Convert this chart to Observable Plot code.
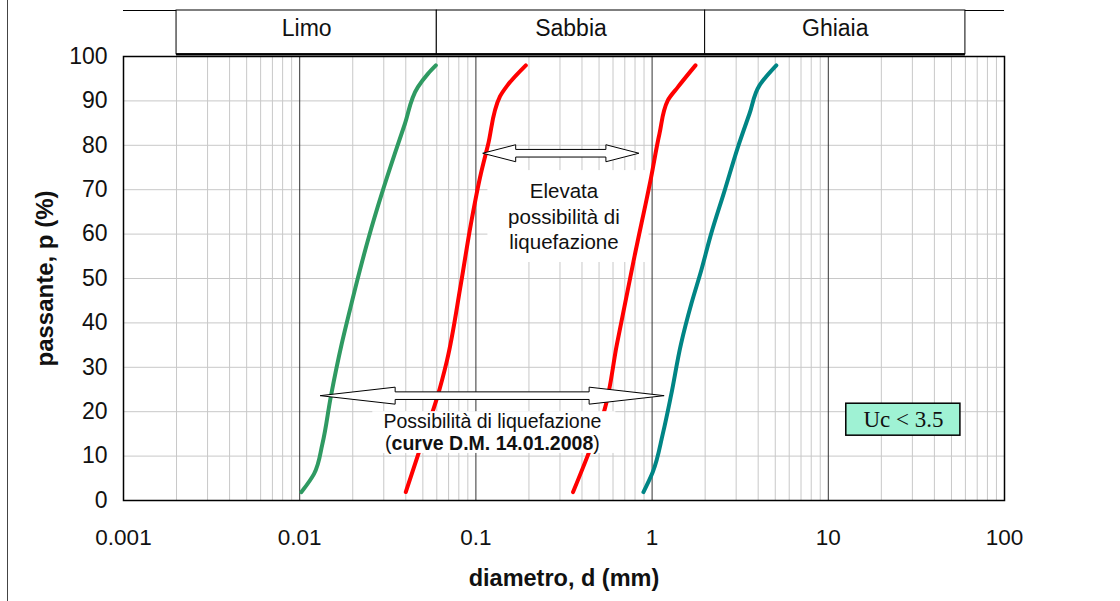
<!DOCTYPE html>
<html><head><meta charset="utf-8">
<script src="https://cdn.jsdelivr.net/npm/d3@7"></script>
<script src="https://cdn.jsdelivr.net/npm/@observablehq/plot@0.6"></script>
<style>
html,body{margin:0;padding:0;background:#fff;}
#wrap{position:relative;width:1120px;height:601px;overflow:hidden;}
#edge{position:absolute;left:7px;top:0;width:0;height:601px;border-left:1.5px solid #444;}
#chart{position:absolute;left:0;top:0;}
</style></head><body>
<div id="wrap"><div id="chart"></div><div id="edge"></div></div>
<script>
// ---- data ----
const xTicks = [0.001, 0.01, 0.1, 1, 10, 100];
const xTickLabels = ["0.001", "0.01", "0.1", "1", "10", "100"];
const yTicks = [0, 10, 20, 30, 40, 50, 60, 70, 80, 90, 100];

const classNames = ["Limo", "Sabbia", "Ghiaia"];
const classBounds = [0.002, 0.06, 2, 60];

const greenX = [0.01023, 0.01206, 0.01346, 0.0150, 0.01732, 0.01924, 0.02193, 0.02466, 0.02924, 0.03466, 0.03951, 0.04683, 0.05338, 0.05925];
const greenY = [1.9, 6, 12.8, 23.3, 35.3, 42.8, 51.8, 59.3, 69.1, 78.1, 84.8, 93.1, 96.1, 98];

const redLeftX = [0.040, 0.0467, 0.0547, 0.0606, 0.0685, 0.0822, 0.0937, 0.1067, 0.117, 0.137, 0.151, 0.192];
const redLeftY = [1.9, 10, 18, 23.5, 31.5, 48.8, 62.3, 73.6, 80, 91, 93.5, 98];

const redRightX = [0.356, 0.43, 0.536, 0.63, 0.793, 0.987, 1.101, 1.228, 1.40, 1.763];
const redRightY = [1.9, 10, 20.3, 35, 54.8, 72.8, 82.6, 90.1, 93.1, 98];

const tealX = [0.893, 1.009, 1.15, 1.28, 1.46, 1.67, 1.90, 2.16, 2.58, 3.07, 3.57, 4.07, 5.07];
const tealY = [1.9, 6.4, 15, 23.6, 35.3, 44.3, 51.8, 60, 69.8, 79.6, 87.1, 93.5, 98];

// annotations (data coordinates)
const arrowFrom = [0.01315, 0.110];
const arrowTo = [1.178, 0.847];
const arrowY = [23.5, 78.1];

const highText = "Elevata\npossibilità di\nliquefazione";
const lowText1 = "Possibilità di liquefazione";
const lowText2 = "(curve D.M. 14.01.2008)";
const ucText = "Uc < 3.5";
const xTitle = "diametro, d (mm)";
const yTitle = "passante, p (%)";

// ---- build ----
const decades = xTicks;
const minor = [];
for (let i = 0; i < decades.length - 1; i++) for (let k = 2; k <= 9; k++) minor.push(decades[i] * k);

const classes = classNames.map((n, i) => ({name: n, lo: classBounds[i], hi: classBounds[i + 1]}));
const series = [
  {id: "green", x: greenX, y: greenY, color: "#2f9a62"},
  {id: "redL", x: redLeftX, y: redLeftY, color: "#ff0000"},
  {id: "redR", x: redRightX, y: redRightY, color: "#ff0000"},
  {id: "teal", x: tealX, y: tealY, color: "#008585"}
];
const lineData = series.flatMap(s => s.x.map((x, i) => ({id: s.id, x, y: s.y[i], color: s.color})));

const hdrTop = 110.36, hdrBottom = 100.5, hdrMid = 106.3;
const headLen = [75, 33];

function arrowsMark(index, scales) {
  const g = d3.create("svg:g");
  arrowFrom.forEach((f, i) => {
    const xa = scales.x(f), xb = scales.x(arrowTo[i]), yc = scales.y(arrowY[i]);
    const h = headLen[i], H = 8.5, s = 3.8;
    const p = [[xa, yc], [xa + h, yc - H], [xa + h, yc - s], [xb - h, yc - s], [xb - h, yc - H], [xb, yc],
               [xb - h, yc + H], [xb - h, yc + s], [xa + h, yc + s], [xa + h, yc + H]];
    g.append("path").attr("d", "M" + p.map(q => q.join(",")).join("L") + "Z")
      .attr("fill", "white").attr("stroke", "black").attr("stroke-width", 1);
  });
  return g.node();
}

const font = "'Liberation Sans', Arial, sans-serif";
const hasAxisMarks = typeof Plot.axisX === "function";

const marks = [
  Plot.ruleY(yTicks.slice(1, -1), {stroke: "#c8c8c8", strokeWidth: 1}),
  Plot.ruleX(minor, {stroke: "#c8c8c8", strokeWidth: 1}),
  Plot.ruleX(decades.slice(1, -1), {stroke: "#333", strokeWidth: 1}),
  Plot.rect([{x1: 0.117, x2: 0.96, y1: 53.6, y2: 74.3}], {x1: "x1", x2: "x2", y1: "y1", y2: "y2", fill: "white"}),
  Plot.line(lineData, {x: "x", y: "y", z: "id", stroke: "color", strokeWidth: 4, curve: "monotone-y", strokeLinecap: "round"}),
  Plot.rect([{x1: 0.026, x2: 0.623, y1: 10.6, y2: 20}], {x1: "x1", x2: "x2", y1: "y1", y2: "y2", fill: "white"}),
  arrowsMark,
  Plot.text([highText], {x: () => 0.316, y: () => 64.2, text: d => d, fontSize: 20.5, lineHeight: 1.24, fill: "#111"}),
  Plot.text([lowText1 + "\n" + lowText2], {x: () => 0.1241, y: () => 15.45, text: d => d, fontSize: 19.5, lineHeight: 1.13, fill: "#111"}),
  Plot.rect([{x1: 12.65, x2: 56.2, y1: 14.6, y2: 21.8}], {x1: "x1", x2: "x2", y1: "y1", y2: "y2", fill: "#9ff2d4", stroke: "black", strokeWidth: 1.5}),
  Plot.text([ucText], {x: () => 26.7, y: () => 18.2, text: d => d, fontSize: 23, fontFamily: "'Liberation Serif', 'Times New Roman', serif", fill: "#111"}),
  Plot.frame({stroke: "black", strokeWidth: 1.5}),
  Plot.ruleY([hdrTop], {stroke: "black", strokeWidth: 1}),
  Plot.rect(classes, {x1: "lo", x2: "hi", y1: () => hdrBottom, y2: () => hdrTop, fill: "white", stroke: "black", strokeWidth: 1}),
  Plot.ruleY([hdrBottom], {x1: classBounds[0], x2: classBounds[classBounds.length - 1], stroke: "black", strokeWidth: 2.2}),
  Plot.text(classes, {x: d => Math.sqrt(d.lo * d.hi), y: () => hdrMid, text: "name", fontSize: 23, fill: "#111"}),
  Plot.text([xTitle], {frameAnchor: "bottom", dy: 78, lineAnchor: "middle", textAnchor: "middle", text: d => d, fontSize: 23.5, fontWeight: "bold", fill: "#111"}),
  Plot.text([yTitle], {frameAnchor: "left", dx: -78, rotate: -90, lineAnchor: "middle", textAnchor: "middle", text: d => d, fontSize: 24, fontWeight: "bold", fill: "#111"})
];

if (hasAxisMarks) {
  marks.push(
    Plot.axisX(xTicks, {tickSize: 0, tickPadding: 29, tickFormat: d => xTickLabels[xTicks.indexOf(d)], fontSize: 22.5, label: null, fill: "#111"}),
    Plot.axisY(yTicks, {tickSize: 0, tickPadding: 16, fontSize: 23, label: null, fill: "#111"})
  );
}

const chart = Plot.plot({
  width: 1120, height: 601,
  marginLeft: 123, marginRight: 116, marginTop: 56, marginBottom: 101,
  style: {fontFamily: font, fontSize: "22px", background: "white", overflow: "visible"},
  x: hasAxisMarks
    ? {type: "log", domain: [0.001, 100], axis: null}
    : {type: "log", domain: [0.001, 100], ticks: xTicks, tickFormat: d => xTickLabels[xTicks.indexOf(d)], tickSize: 0, tickPadding: 29, label: null},
  y: hasAxisMarks
    ? {domain: [0, 100], axis: null}
    : {domain: [0, 100], ticks: yTicks, tickSize: 0, tickPadding: 16, label: null},
  marks
});
document.getElementById("chart").appendChild(chart);

// mixed weight in the second caption line: "(" normal, inner part bold, ")" normal
d3.select(chart).selectAll("tspan").filter(function () { return this.textContent === lowText2; })
  .each(function () {
    const t = d3.select(this);
    t.text(null);
    t.append("tspan").text("(");
    t.append("tspan").attr("font-weight", "bold").text(lowText2.slice(1, -1));
    t.append("tspan").text(")");
  });
</script>
</body></html>
